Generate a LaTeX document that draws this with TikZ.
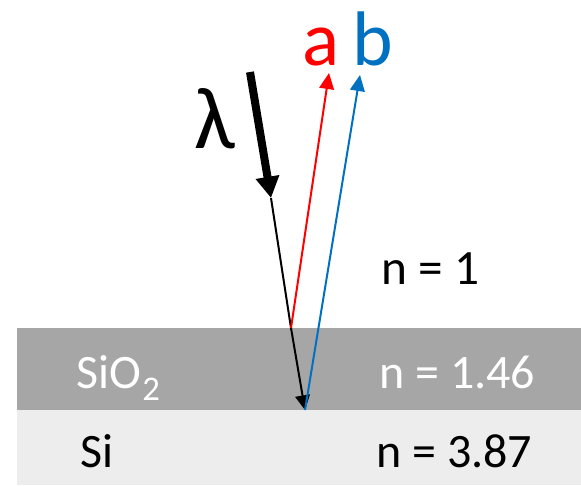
\documentclass[tikz,border=0pt]{standalone}
\usepackage{fontspec}
\setmainfont{Carlito}
\usetikzlibrary{arrows.meta}
\definecolor{oxide}{HTML}{A6A6A6}
\definecolor{silicon}{HTML}{EDEDED}
\definecolor{rayred}{HTML}{FF0000}
\definecolor{rayblue}{HTML}{0070C0}
\begin{document}
\begin{tikzpicture}[x=0.75pt,y=-0.75pt,
  lbl/.style={inner sep=0pt,anchor=base west},
  thinray/.style={line width=1.5pt,-{Triangle[width=11pt,length=12pt]}},
  bigfont/.style={font=\fontsize{58}{60}\selectfont},
  midfont/.style={font=\fontsize{36}{40}\selectfont}]
\useasboundingbox (0,0) rectangle (581,485);
\fill[oxide] (17,328) rectangle (581,410);
\fill[silicon] (17,410) rectangle (581,485);
% ray points
\coordinate (lamS) at (250,72);
\coordinate (lamE) at (271,198);
\coordinate (P) at (291,328);
\coordinate (Q) at (305,410);
\coordinate (aT) at (329,73);
\coordinate (bT) at (360,75);
% rays
\draw[line width=6pt,-{Triangle[width=17pt,length=16pt]}] (lamS) -- (lamE);
\draw[line width=1.5pt] (lamE) -- (P);
\draw[line width=1.5pt,-{Triangle[width=11pt,length=11pt]}] (P) -- (Q);
\draw[thinray,rayred] (P) -- (aT);
\draw[thinray,rayblue] (Q) -- (bT);
% labels
\node[lbl,bigfont,text=rayred] (la) at (302,65) {a};
\node[lbl,bigfont,text=rayblue] (lb) at (352,65) {b};
\node[lbl,font=\fontsize{66}{70}\selectfont] (llam) at (194,148) {λ};
\node[lbl,font=\fontsize{37}{40}\selectfont] (n1) at (381,284) {n = 1};
\node[lbl,midfont,text=white] (nox) at (379,388) {n = 1.46};
\node[lbl,midfont,text=white] (sio) at (76,388) {SiO\kern1pt{\fontsize{26}{26}\selectfont\raisebox{-9.5pt}{2}}};
\node[lbl,midfont] (nsi) at (376,467) {n = 3.87};
\node[lbl,midfont] (si) at (80,467) {Si};
\end{tikzpicture}
\end{document}
